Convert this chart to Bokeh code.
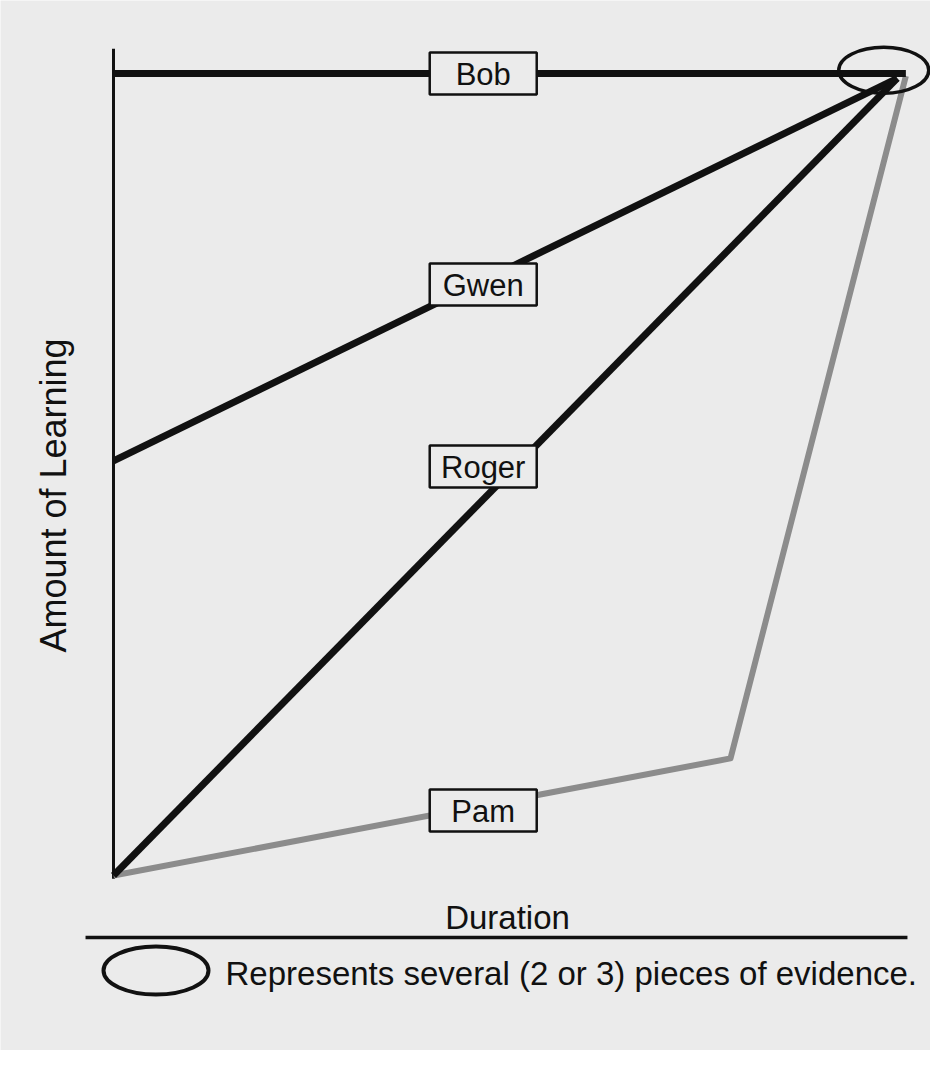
from bokeh.plotting import figure
from bokeh.models import Range1d, ColumnDataSource
from bokeh.core.properties import value
from bokeh.embed import file_html
from bokeh.resources import INLINE
import math

# ---------------- data (conceptual learning curves, 0-100 scales) ----------------
students = ["Bob", "Gwen", "Roger", "Pam"]
bob_x = [0, 100.3]
bob_y = [100, 100]
gwen_x = [0, 99.2]
gwen_y = [51.7, 99.4]
roger_x = [0, 99.2]
roger_y = [0, 99.4]
pam_x = [0, 78.1, 100.3]
pam_y = [0, 14.6, 99.7]

# label box anchor positions (data units)
label_x = [46.8, 46.8, 46.8, 46.8]
label_y = [100, 73.7, 51.0, 8.1]

# cluster of evidence (ellipse) and axis extents
cluster_x = [97.5]
cluster_y = [100.4]
y_axis_top = 103.1
y_axis_bottom = -0.4
x_axis_y = -7.73
x_axis_left = -3.54
x_axis_right = 100.5

y_title = "Amount of Learning"
x_title = "Duration"
legend_text = "Represents several (2 or 3) pieces of evidence."

# ---------------- layout helpers ----------------
BG = "#ebebeb"
INK = "#111111"
GRAY = "#8c8c8c"
FONT = value("Liberation Sans")
LIFT = 10  # px: renderer draws the alphabetic baseline this much lower

# pixel <-> data mapping (screen px measured on the page)
X0, XS = 113.0, 7.9     # page x of data x=0, px per unit
Y0, YS = 875.0, 8.02    # page y of data y=0, px per unit


def dx(px):
    return (px - X0) / XS


def dy(py):
    return (Y0 - py) / YS


p = figure(width=930, height=1050,
           x_range=Range1d(dx(0), dx(930)), y_range=Range1d(dy(1050), dy(0)),
           x_axis_location=None, y_axis_location=None,
           output_backend="svg", toolbar_location=None,
           min_border=0, min_border_left=0, min_border_right=0,
           min_border_top=0, min_border_bottom=0,
           background_fill_color=BG, border_fill_color=BG,
           outline_line_color=None)
p.grid.visible = False

# axes (drawn as plain lines)
p.line([0, 0], [y_axis_bottom, y_axis_top], line_color=INK, line_width=3)
p.line([x_axis_left, x_axis_right], [x_axis_y, x_axis_y], line_color=INK, line_width=3.5)

# learning paths
p.line(pam_x, pam_y, line_color=GRAY, line_width=6, line_join="round")
p.line(bob_x, bob_y, line_color=INK, line_width=7)
p.line(gwen_x, gwen_y, line_color=INK, line_width=7)
p.line(roger_x, roger_y, line_color=INK, line_width=7)

# evidence cluster
p.ellipse(x=cluster_x, y=cluster_y, width=90, height=46,
          width_units="screen", height_units="screen",
          fill_color=None, line_color=INK, line_width=3.5)

# label boxes
src = ColumnDataSource(dict(x=label_x, y=label_y, name=students))
p.rect(x="x", y="y", width=107, height=42, width_units="screen", height_units="screen",
       source=src, fill_color=BG, line_color=INK, line_width=2.5)
p.text(x="x", y="y", text="name", source=src, text_font=FONT, text_font_size="31px",
       text_align="center", text_baseline="alphabetic", y_offset=11 - LIFT, text_color=INK)

# axis titles
p.text(x=[dx(63 - LIFT)], y=[dy(495)], text=[y_title], angle=math.pi / 2,
       text_font=FONT, text_font_size="36px", text_align="center",
       text_baseline="alphabetic", text_color=INK)
p.text(x=[dx(507)], y=[dy(927 - LIFT)], text=[x_title],
       text_font=FONT, text_font_size="33px", text_align="center",
       text_baseline="alphabetic", text_color=INK)

# legend
p.ellipse(x=[dx(155.5)], y=[dy(970)], width=105, height=48,
          width_units="screen", height_units="screen",
          fill_color=None, line_color=INK, line_width=4)
p.text(x=[dx(225)], y=[dy(983 - LIFT)], text=[legend_text],
       text_font=FONT, text_font_size="33px", text_align="left",
       text_baseline="alphabetic", text_color=INK)

open("out.html", "w").write(file_html(p, INLINE))
